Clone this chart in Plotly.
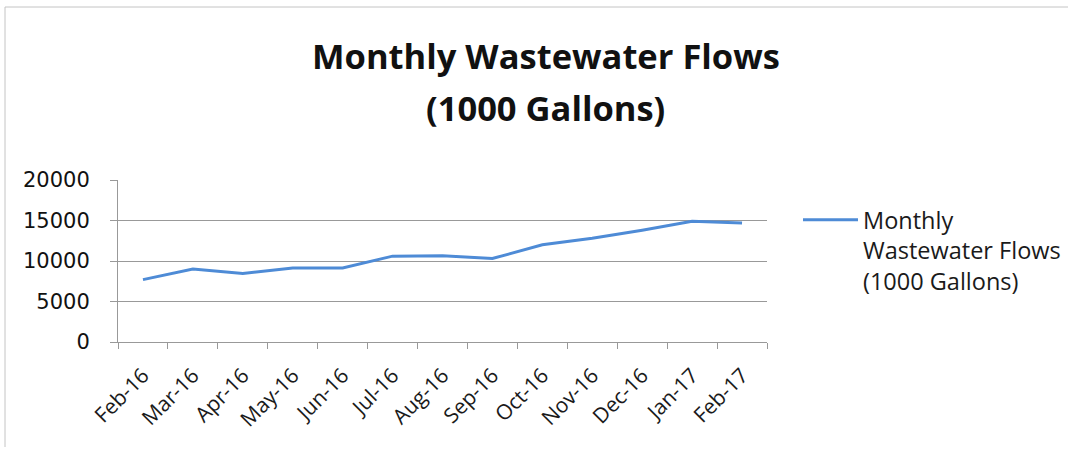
import plotly.graph_objects as go

months = ["Feb-16", "Mar-16", "Apr-16", "May-16", "Jun-16", "Jul-16", "Aug-16",
          "Sep-16", "Oct-16", "Nov-16", "Dec-16", "Jan-17", "Feb-17"]
flows = [7700, 9000, 8450, 9150, 9150, 10600, 10650, 10300, 12000, 12800, 13800, 14900, 14700]
y_ticks = [0, 5000, 10000, 15000, 20000]
series_name = "Monthly<br>Wastewater Flows<br>(1000 Gallons)"
title_lines = ["Monthly Wastewater Flows", "(1000 Gallons)"]

FONT = "Open Sans"
YFONT = "DejaVu Sans"
W, H = 1072, 451
L, R, T, B = 118, 1072 - 767, 180, 451 - 342
PW, PH = W - L - R, H - T - B


def px_x(p):
    return (p - L) / PW


def px_y(p):
    return (H - B - p) / PH


fig = go.Figure()
fig.add_trace(go.Scatter(
    x=months, y=flows, mode="lines", name=series_name,
    line=dict(color="#4e8bd6", width=3),
))

annotations = [
    dict(text="<b>" + title_lines[0] + "</b>", xref="paper", yref="paper",
         x=px_x(546), y=px_y(56), xanchor="center", yanchor="middle", showarrow=False,
         font=dict(size=34.5, family=FONT, color="#111")),
    dict(text="<b>" + title_lines[1] + "</b>", xref="paper", yref="paper",
         x=px_x(545), y=px_y(107), xanchor="center", yanchor="middle", showarrow=False,
         font=dict(size=34.5, family=FONT, color="#111")),
]

fig.update_layout(
    width=W, height=H,
    margin=dict(l=L, r=R, t=T, b=B, autoexpand=False),
    paper_bgcolor="white", plot_bgcolor="white",
    font=dict(family=FONT, color="#1a1a1a"),
    showlegend=True,
    legend=dict(x=px_x(798), y=px_y(198), xanchor="left", yanchor="top", valign="top",
                font=dict(size=23.5, family=FONT, color="#1a1a1a"), bgcolor="rgba(0,0,0,0)",
                itemwidth=55, tracegroupgap=0),
    annotations=annotations,
    xaxis=dict(type="category", tickson="boundaries", ticks="outside", ticklen=6,
               tickcolor="#999", showline=True, linecolor="#999", linewidth=1,
               showgrid=False, tickangle=-45, automargin=False, ticklabelstandoff=12,
               tickfont=dict(size=21, family=FONT, color="#1a1a1a"),
               range=[-0.5, len(months) - 0.5]),
    yaxis=dict(range=[0, 20000], tickvals=y_ticks, ticktext=[str(v) for v in y_ticks],
               ticks="outside", ticklen=7, tickcolor="#999", automargin=False,
               showline=True, linecolor="#999", linewidth=1, showgrid=True, gridcolor="#999",
               gridwidth=1, zeroline=False, tickfont=dict(size=21, family=YFONT, color="#111"),
               ticklabelstandoff=16),
    shapes=[
        dict(type="line", xref="paper", yref="paper", x0=px_x(5), x1=px_x(1068),
             y0=px_y(7), y1=px_y(7), line=dict(color="#c4c4c4", width=1)),
        dict(type="line", xref="paper", yref="paper", x0=px_x(5), x1=px_x(5),
             y0=px_y(7), y1=px_y(447), line=dict(color="#c4c4c4", width=1)),
    ],
)

fig.write_html("out.html", config={"displayModeBar": False, "responsive": False},
               post_script="document.body.style.margin='0';document.body.style.overflow='hidden';")
